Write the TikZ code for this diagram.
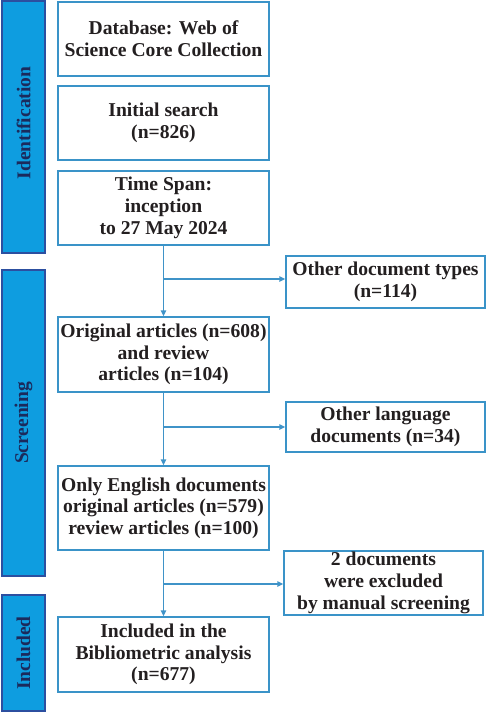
\documentclass[tikz,border=0pt]{standalone}
\usepackage{fontspec}
\setmainfont{Liberation Serif}
\usetikzlibrary{arrows.meta}
\definecolor{barfill}{HTML}{0E9DE0}
\definecolor{bardraw}{HTML}{2C4FA0}
\definecolor{bartext}{HTML}{1B2A5C}
\definecolor{boxdraw}{HTML}{3A93C8}
\definecolor{arrowc}{HTML}{3F93C8}
\definecolor{txt}{HTML}{231F20}
\begin{document}
\begin{tikzpicture}[x=1pt,y=-1pt,
  box/.style={draw=boxdraw, line width=1.4pt, fill=white, align=center, inner sep=0pt,
    text=txt, font=\fontsize{19.6}{21.7}\selectfont\bfseries},
  mainbox/.style={box, minimum width=211pt},
  sidebox/.style={box, minimum width=199pt},
  bar/.style={draw=bardraw, line width=1.2pt, fill=barfill, minimum width=43pt, inner sep=0pt},
  bartxt/.style={rotate=90, text=bartext, font=\fontsize{19.5}{21.7}\selectfont\bfseries},
  arr/.style={draw=arrowc, line width=1.4pt, -{Triangle[length=6pt,width=5.5pt]}}]
\useasboundingbox (0,0) rectangle (487,713);
% phase bars
\node[bar, minimum height=252pt] (bid) at (23.5,127) {};
\node[bartxt] (tid) at ([yshift=4pt]bid.center) {Identification};
\node[bar, minimum height=306pt] (bsc) at (23.5,423) {};
\node[bartxt] (tsc) at (bsc.center) {Screening};
\node[bar, minimum height=116pt] (bin) at (23.5,653) {};
\node[bartxt] (tin) at (bin.center) {Included};
% main boxes
\node[mainbox, minimum height=74pt] (b1) at (163.5,39) {Database: Web of\\Science Core Collection};
\node[mainbox, minimum height=74pt] (b2) at (163.5,123) {Initial search\\(n=826)};
\node[mainbox, minimum height=74pt] (b3) at (163.5,208) {Time Span:\\inception\\to 27 May 2024};
\node[mainbox, minimum height=75pt] (b4) at (163.5,354.5) {Original articles (n=608)\\and review\\articles (n=104)};
\node[mainbox, minimum height=84pt] (b5) at (163.5,508) {Only English documents\\original articles (n=579)\\review articles (n=100)};
\node[mainbox, minimum height=75pt] (b6) at (163.5,654.5) {Included in the\\Bibliometric analysis\\(n=677)};
% side boxes
\node[sidebox, minimum height=52pt] (r1) at (385.5,282) {Other document types\\(n=114)};
\node[sidebox, minimum height=50pt] (r2) at (385.5,427) {Other language\\documents (n=34)};
\node[sidebox, minimum height=64pt] (r3) at (383.5,583) {2 documents\\were excluded\\by manual screening};
% connectors
\draw[arr] (b3.south) -- (b4.north);
\draw[arr] (b4.south) -- (b5.north);
\draw[arr] (b5.south) -- (b6.north);
\coordinate (j1) at (163.5,279);
\coordinate (j2) at (163.5,427);
\coordinate (j3) at (163.5,584);
\draw[arr] (j1) -- (j1 -| r1.west);
\draw[arr] (j2) -- (r2.west);
\draw[arr] (j3) -- (j3 -| r3.west);
\end{tikzpicture}
\end{document}
